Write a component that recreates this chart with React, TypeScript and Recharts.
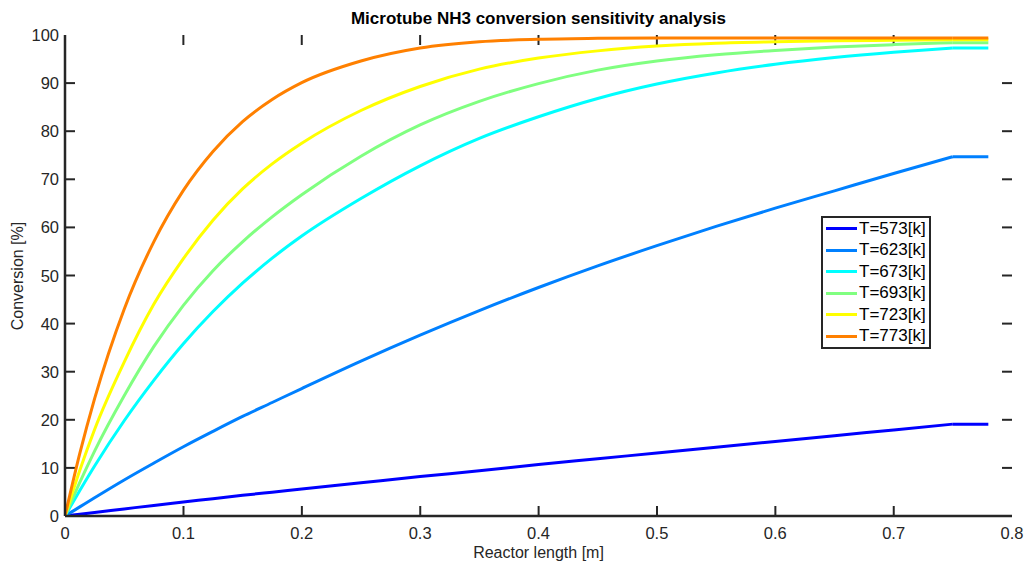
import { Legend, Line, LineChart, ReferenceLine, XAxis, YAxis } from 'recharts';

// reactor length [m]
const lengths = [0, 0.0125, 0.025, 0.05, 0.075, 0.1, 0.125, 0.15, 0.175, 0.2, 0.25, 0.3, 0.35, 0.4, 0.45, 0.5, 0.55, 0.6, 0.65, 0.7, 0.75, 0.78];

// conversion [%] per temperature
const t573 = [0, 0.37, 0.74, 1.47, 2.2, 2.9, 3.6, 4.3, 4.95, 5.6, 6.9, 8.2, 9.4, 10.7, 11.9, 13.1, 14.3, 15.5, 16.7, 17.9, 19.1, 19.1];
const t623 = [0, 1.9, 3.8, 7.5, 11, 14.4, 17.6, 20.7, 23.6, 26.5, 32.2, 37.6, 42.7, 47.5, 52, 56.2, 60.2, 64, 67.6, 71.2, 74.7, 74.7];
const t673 = [0, 5.3, 10.4, 19.8, 28.2, 35.8, 42.5, 48.4, 53.6, 58.2, 66, 72.8, 78.5, 83, 86.8, 89.8, 92.1, 93.9, 95.3, 96.4, 97.3, 97.3];
const t693 = [0, 7, 13.5, 25, 35.2, 43.8, 51, 57, 62.2, 66.8, 74.8, 81.3, 86.2, 89.9, 92.7, 94.6, 95.9, 96.8, 97.5, 98, 98.4, 98.4];
const t723 = [0, 9.5, 18, 32, 44, 53.5, 61.5, 68, 73.2, 77.5, 84.3, 89.3, 92.9, 95.2, 96.7, 97.7, 98.3, 98.6, 98.8, 98.9, 99, 99];
const t773 = [0, 13, 24.4, 43, 57, 67.7, 75.8, 82, 86.6, 90.1, 94.6, 97.3, 98.6, 99.1, 99.3, 99.4, 99.4, 99.4, 99.4, 99.4, 99.4, 99.4];

const xTicks = [0, 0.1, 0.2, 0.3, 0.4, 0.5, 0.6, 0.7, 0.8];
const yTicks = [0, 10, 20, 30, 40, 50, 60, 70, 80, 90, 100];

const series = [
  { key: 't573', name: 'T=573[k]', color: '#0000ff', values: t573 },
  { key: 't623', name: 'T=623[k]', color: '#0080ff', values: t623 },
  { key: 't673', name: 'T=673[k]', color: '#00ffff', values: t673 },
  { key: 't693', name: 'T=693[k]', color: '#80ff80', values: t693 },
  { key: 't723', name: 'T=723[k]', color: '#ffff00', values: t723 },
  { key: 't773', name: 'T=773[k]', color: '#ff8000', values: t773 },
];

// the last stretch (0.75 -> 0.78) is flat and straight, drawn apart so the corner stays sharp
const tailStart = lengths.indexOf(0.75);

const data = lengths.map((len, i) => {
  const row: Record<string, number | null> = { len };
  series.forEach((s) => {
    row[s.key] = i <= tailStart ? s.values[i] : null;
    row[s.key + 'Tail'] = i >= tailStart ? s.values[i] : null;
  });
  return row;
});

const ink = '#262626';
const font = '"Liberation Sans", Arial, Helvetica, sans-serif';
const tickFont = 16.5;

// chart box
const W = 1024;
const H = 562;
const margin = { top: 35, right: 12, bottom: 16, left: 25 };
const yAxisW = 40;
const xAxisH = 30;
const plotW = W - margin.left - margin.right - yAxisW;
const plotH = H - margin.top - margin.bottom - xAxisH;

// inward tick marks, 10px long, expressed in axis units
const tickPx = 10;
const tickDx = (tickPx / plotW) * 0.8;
const tickDy = (tickPx / plotH) * 100;
// bottom marks get a hair of x offset so they are not merged with the top ones
const nudge = 0.0001;

function BottomTick(props: any) {
  const { x, y, payload } = props;
  return (
    <text x={x} y={Number(y) + 23} textAnchor="middle" fill={ink} fontSize={tickFont} fontFamily={font}>
      {payload.value}
    </text>
  );
}

function LeftTick(props: any) {
  const { x, y, payload } = props;
  return (
    <text x={Number(x) - 6} y={Number(y) + 6} textAnchor="end" fill={ink} fontSize={tickFont} fontFamily={font}>
      {payload.value}
    </text>
  );
}

function LegendBox({ payload }: any) {
  const items = (payload || []).filter((p: any) => p.type !== 'none' && !String(p.dataKey).endsWith('Tail'));
  return (
    <div style={{ border: `2px solid ${ink}`, background: '#fff', width: 106, fontFamily: font }}>
      {items.map((p: any) => (
        <div key={p.value} style={{ display: 'flex', alignItems: 'center', height: 21.5, paddingLeft: 3 }}>
          <span style={{ display: 'inline-block', width: 31, height: 3, background: p.color, marginRight: 2, flexShrink: 0 }} />
          <span style={{ fontSize: 17, color: '#000', lineHeight: '18px', whiteSpace: 'nowrap' }}>{p.value}</span>
        </div>
      ))}
    </div>
  );
}

const axisLine = { stroke: ink, strokeWidth: 2.5 };

export default function App() {
  return (
    <div style={{ position: 'absolute', left: 0, top: 0, width: W, height: H, background: '#fff', overflow: 'hidden', fontFamily: font }}>
      <LineChart width={W} height={H} data={data} margin={margin}>
        <XAxis
          dataKey="len"
          type="number"
          domain={[0, 0.8]}
          ticks={xTicks}
          interval={0}
          allowDataOverflow
          height={xAxisH}
          tick={BottomTick}
          tickSize={0}
          tickMargin={0}
          tickLine={false}
          axisLine={axisLine}
        />
        <XAxis
          xAxisId="top"
          orientation="top"
          dataKey="len"
          type="number"
          domain={[0, 0.8]}
          ticks={xTicks}
          allowDataOverflow
          height={0}
          tick={false}
          tickLine={false}
          axisLine={axisLine}
        />
        <YAxis
          type="number"
          domain={[0, 100]}
          ticks={yTicks}
          interval={0}
          allowDataOverflow
          width={yAxisW}
          tick={LeftTick}
          tickSize={0}
          tickMargin={0}
          tickLine={false}
          axisLine={axisLine}
        />
        <YAxis
          yAxisId="right"
          orientation="right"
          type="number"
          domain={[0, 100]}
          ticks={yTicks}
          allowDataOverflow
          width={0}
          tick={false}
          tickLine={false}
          axisLine={axisLine}
        />
        {xTicks.slice(1, -1).map((t) => (
          <ReferenceLine
            key={'b' + t}
            segment={[{ x: t + nudge, y: tickDy }, { x: t + nudge, y: 0.2 }]}
            stroke={ink}
            strokeWidth={2}
            ifOverflow="visible"
          />
        ))}
        {xTicks.slice(1, -1).map((t) => (
          <ReferenceLine key={'t' + t} segment={[{ x: t, y: 100 }, { x: t, y: 100 - tickDy }]} stroke={ink} strokeWidth={2} ifOverflow="visible" />
        ))}
        {yTicks.slice(1, -1).map((v) => (
          <ReferenceLine key={'l' + v} segment={[{ x: 0, y: v }, { x: tickDx, y: v }]} stroke={ink} strokeWidth={2} ifOverflow="visible" />
        ))}
        {yTicks.slice(1, -1).map((v) => (
          <ReferenceLine key={'r' + v} segment={[{ x: 0.8, y: v }, { x: 0.8 - tickDx, y: v }]} stroke={ink} strokeWidth={2} ifOverflow="visible" />
        ))}
        {series.map((s) => (
          <Line
            key={s.key}
            type="monotone"
            dataKey={s.key}
            name={s.name}
            stroke={s.color}
            strokeWidth={3}
            dot={false}
            activeDot={false}
            isAnimationActive={false}
          />
        ))}
        {series.map((s) => (
          <Line
            key={s.key + 'Tail'}
            type="linear"
            dataKey={s.key + 'Tail'}
            legendType="none"
            stroke={s.color}
            strokeWidth={3}
            dot={false}
            activeDot={false}
            isAnimationActive={false}
          />
        ))}
        <Legend
          layout="horizontal"
          verticalAlign="middle"
          align="center"
          content={<LegendBox />}
          wrapperStyle={{ position: 'absolute', left: 821, top: 216, width: 110 }}
        />
      </LineChart>
      <div style={{ position: 'absolute', left: 65, width: 947, top: 9, textAlign: 'center', fontSize: 17, fontWeight: 'bold', lineHeight: '19px', color: '#000' }}>
        Microtube NH3 conversion sensitivity analysis
      </div>
      <div style={{ position: 'absolute', left: 65, width: 947, top: 544, textAlign: 'center', fontSize: 16, lineHeight: '18px', color: ink }}>
        Reactor length [m]
      </div>
      <div
        style={{
          position: 'absolute',
          left: 18,
          top: 276,
          transform: 'translate(-50%, -50%) rotate(-90deg)',
          whiteSpace: 'nowrap',
          fontSize: 16,
          lineHeight: '18px',
          color: ink,
        }}
      >
        Conversion [%]
      </div>
    </div>
  );
}
